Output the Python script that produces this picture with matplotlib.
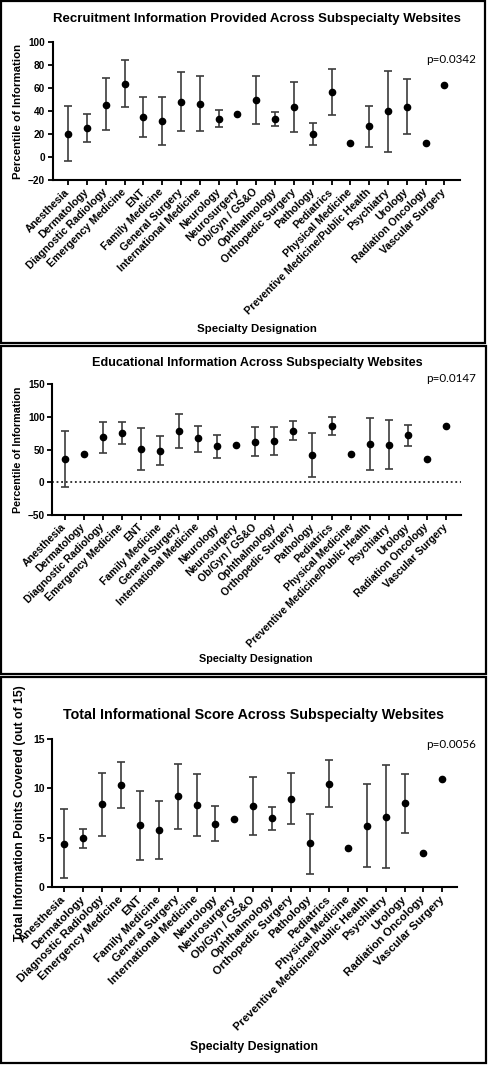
import numpy as np
import matplotlib
matplotlib.use("Agg")
import matplotlib.pyplot as plt
from matplotlib.patches import Rectangle

# ---------------- data ----------------
categories = ["Anesthesia", "Dermatology", "Diagnostic Radiology", "Emergency Medicine",
              "ENT", "Family Medicine", "General Surgery", "International Medicine",
              "Neurology", "Neurosurgery", "Ob/Gyn / GS&O", "Ophthalmology",
              "Orthopedic Surgery", "Pathology", "Pediatrics", "Physical Medicine",
              "Preventive Medicine/Public Health", "Psychiatry", "Urology",
              "Radiation Oncology", "Vascular Surgery"]

nan = np.nan
recruit_mean = [20.3, 25.0, 45.6, 64.0, 34.6, 31.1, 48.0, 46.5, 33.1, 37.8, 49.7, 33.1,
                43.9, 20.3, 56.4, 12.5, 26.7, 39.8, 43.9, 12.5, 63.1]
recruit_lo = [-3.2, 12.8, 23.3, 43.9, 17.2, 10.2, 22.4, 22.7, 26.2, nan, 28.5, 26.7,
              22.1, 10.8, 36.3, nan, 8.7, 4.7, 19.8, nan, nan]
recruit_hi = [44.2, 37.8, 68.6, 84.6, 52.3, 52.0, 73.8, 70.3, 40.7, nan, 70.3, 39.2,
              65.7, 29.7, 76.7, nan, 44.8, 74.7, 68.0, nan, nan]

edu_mean = [36.0, 42.7, 68.7, 75.8, 51.4, 47.8, 78.3, 67.0, 55.0, 57.0, 62.0, 63.0,
            78.8, 41.2, 86.0, 43.2, 59.0, 57.5, 71.7, 36.0, 86.0]
edu_lo = [-7.0, nan, 45.3, 59.0, 18.8, 26.0, 51.9, 46.8, 36.6, nan, 40.7, 41.7,
          64.0, 8.0, 71.7, nan, 18.8, 19.8, 56.0, nan, nan]
edu_hi = [79.0, nan, 91.6, 92.0, 83.4, 70.7, 104.8, 86.5, 72.7, nan, 84.0, 84.0,
          93.6, 74.8, 100.2, nan, 98.7, 94.6, 88.0, nan, nan]

total_mean = [4.42, 4.95, 8.39, 10.35, 6.27, 5.80, 9.23, 8.32, 6.44, 6.94, 8.22, 6.98,
              8.97, 4.45, 10.48, 3.94, 6.20, 7.11, 8.49, 3.44, 10.95]
total_lo = [0.94, 3.94, 5.19, 7.99, 2.76, 2.83, 5.93, 5.22, 4.65, nan, 5.29, 5.76,
            6.37, 1.38, 8.09, nan, 2.02, 1.92, 5.46, nan, nan]
total_hi = [7.95, 5.93, 11.53, 12.67, 9.77, 8.73, 12.50, 11.43, 8.22, nan, 11.12, 8.16,
            11.56, 7.45, 12.84, nan, 10.45, 12.34, 11.49, nan, nan]

titles = ["Recruitment Information Provided Across Subspecialty Websites",
          "Educational Information Across Subspecialty Websites",
          "Total Informational Score Across Subspecialty Websites"]
ylabels = ["Percentile of Information", "Percentile of Information",
           "Total Information Points Covered (out of 15)"]
pvalues = ["p=0.0342", "p=0.0147", "p=0.0056"]
xlabel = "Specialty Designation"
yticks_list = [[-20, 0, 20, 40, 60, 80, 100], [-50, 0, 50, 100, 150], [0, 5, 10, 15]]
ylims = [(-20, 100), (-50, 150), (0, 15)]

# ---------------- layout (pixels) ----------------
W, H = 488, 1066
fig = plt.figure(figsize=(W / 100, H / 100), dpi=100)
fig.patch.set_facecolor("white")
FONT = "Liberation Sans"


def fx(x):
    return x / W


def fy(y):
    return 1 - y / H


def axpos(l, t, r, b):
    return [l / W, 1 - b / H, (r - l) / W, (b - t) / H]


panels = [
    dict(box=(1, 1, 485, 343), ax=(52.5, 42.3, 460, 180), xlim=(-0.83, 20.83),
         title=(257, 19, 410), p=(476, 59.3, 50), ylab=(18, 111, 135),
         xlab=(257, 329, 120), tick_fs=7.7, ytick_fs=7.2),
    dict(box=(1, 346, 486, 674), ax=(52.3, 384, 461, 515), xlim=(-0.64, 20.79),
         title=(257, 362.7, 330), p=(476, 378.3, 50), ylab=(18, 449.5, 128),
         xlab=(256, 659, 114), tick_fs=7.6, ytick_fs=7.2),
    dict(box=(1, 677, 486, 1063), ax=(52.3, 739, 457.3, 887.3), xlim=(-0.63, 20.79),
         title=(254, 715, 382), p=(476, 744.3, 50), ylab=(20, 813.5, 257),
         xlab=(254, 1046.7, 128), tick_fs=8.2, ytick_fs=7.5),
]

datasets = [(recruit_mean, recruit_lo, recruit_hi),
            (edu_mean, edu_lo, edu_hi),
            (total_mean, total_lo, total_hi)]

fig.canvas.draw()
renderer = fig.canvas.get_renderer()


def fit(t, target, vertical=False):
    bb = t.get_window_extent(renderer)
    w = bb.height if vertical else bb.width
    if w > 0:
        t.set_fontsize(t.get_fontsize() * target / w)


x = np.arange(len(categories))
for i, (pn, (mean, lo, hi)) in enumerate(zip(panels, datasets)):
    # panel border
    l, t, r, b = pn["box"]
    fig.add_artist(Rectangle((fx(l), fy(b)), (r - l) / W, (b - t) / H,
                             transform=fig.transFigure, fill=False,
                             edgecolor="black", linewidth=1.6))
    ax = fig.add_axes(axpos(*pn["ax"]))
    mean = np.array(mean, float)
    lo = np.array(lo, float)
    hi = np.array(hi, float)
    m = ~np.isnan(lo)
    ax.errorbar(x[m], mean[m], yerr=[mean[m] - lo[m], hi[m] - mean[m]], fmt="none",
                ecolor="#3c3c3c", elinewidth=1.2, capsize=2.7, capthick=1.2, zorder=2)
    ax.plot(x, mean, "o", color="black", markersize=4.5, zorder=3)
    if i == 1:
        ax.axhline(0, color="black", lw=1.1, dashes=(1.2, 1.8), zorder=1)
    ax.set_xlim(*pn["xlim"])
    ax.set_ylim(*ylims[i])
    ax.set_yticks(yticks_list[i])
    ax.set_xticks(x)
    ax.set_xticklabels(categories, rotation=45, ha="right", va="center",
                       rotation_mode="anchor", fontsize=pn["tick_fs"],
                       fontweight="bold", family=FONT)
    for lab in ax.get_yticklabels():
        lab.set_fontsize(pn["ytick_fs"])
        lab.set_fontweight("bold")
        lab.set_family(FONT)
    ax.spines["top"].set_visible(False)
    ax.spines["right"].set_visible(False)
    ax.spines["left"].set_linewidth(1.5)
    ax.spines["bottom"].set_linewidth(1.5)
    ax.tick_params(axis="both", direction="out", length=3.5, width=1.3, pad=2)
    ax.tick_params(axis="x", pad=4)
    ax.set_facecolor("none")

    # texts
    tx, ty, tw = pn["title"]
    tt = fig.text(fx(tx), fy(ty), titles[i], ha="center", va="center",
                  fontweight="bold", family=FONT, fontsize=9)
    fit(tt, tw)
    px, py, pw = pn["p"]
    pt = fig.text(fx(px), fy(py), pvalues[i], ha="right", va="center",
                  family="Lato", fontsize=8)
    fit(pt, pw)
    lx, ly, lw = pn["ylab"]
    yt = fig.text(fx(lx), fy(ly), ylabels[i], ha="center", va="center", rotation=90,
                  fontweight="bold", family=FONT, fontsize=8)
    fit(yt, lw, vertical=True)
    xx, xy, xw = pn["xlab"]
    xt = fig.text(fx(xx), fy(xy), xlabel, ha="center", va="center",
                  fontweight="bold", family=FONT, fontsize=8)
    fit(xt, xw)

fig.savefig("out.png", dpi=100, facecolor="white")
